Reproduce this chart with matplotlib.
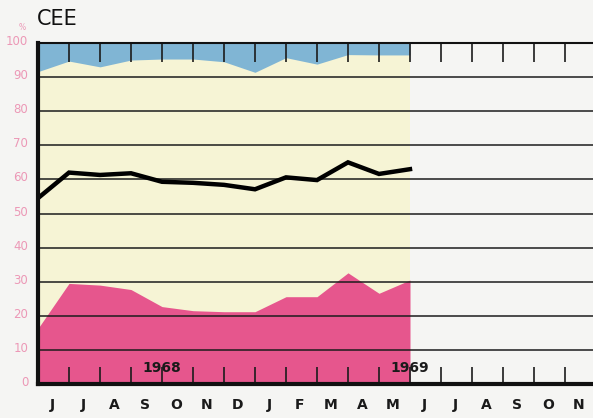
import matplotlib.pyplot as plt
import matplotlib.transforms as mtransforms
import numpy as np

# valeurs (juin 1968 -> juin 1969)
mois_x = np.arange(13)
courbe = [54.5, 62.0, 61.3, 61.8, 59.3, 59.0, 58.4, 57.1, 60.6, 59.8, 65.0, 61.6, 63.0]
zone_rose = [16.3, 29.5, 29.0, 27.7, 22.7, 21.5, 21.2, 21.2, 25.6, 25.6, 32.6, 26.6, 30.5]
zone_bleue = [91.6, 94.7, 93.0, 95.0, 95.3, 95.3, 94.5, 91.4, 95.7, 93.8, 96.6, 96.5, 96.5]

etiquettes_mois = ["J", "J", "A", "S", "O", "N", "D", "J", "F", "M", "A", "M",
                   "J", "J", "A", "S", "O", "N"]
annees = ["1968", "1969"]
annees_x = [4, 12]
graduations_y = [0, 10, 20, 30, 40, 50, 60, 70, 80, 90, 100]

fond = "#f5f5f3"
creme = "#f6f4d5"
rose = "#e6568d"
bleu = "#80b5d4"
rose_clair = "#ec98b6"

fig = plt.figure(figsize=(5.93, 4.18), dpi=100, facecolor=fond)
ax = fig.add_axes([38 / 593, 34 / 418, 1 - 38 / 593, 341 / 418])
ax.set_facecolor(fond)
ax.set_xlim(0, 555 / 31)
ax.set_ylim(0, 100)

# zones colorees
ax.fill_between(mois_x, 0, 100, color=creme, lw=0, zorder=1)
ax.fill_between(mois_x, 0, zone_rose, color=rose, lw=0, zorder=2)
ax.fill_between(mois_x, zone_bleue, 100, color=bleu, lw=0, zorder=2)

# lignes horizontales
for v in graduations_y[1:-1]:
    ax.axhline(v, color="#1c1c1c", lw=1.1, zorder=3)

# petites graduations verticales en haut et en bas
xt = np.arange(1, 18)
ax.vlines(xt, 1 - 19 / 341, 1, color="#1c1c1c", lw=1.2,
          transform=ax.get_xaxis_transform(), zorder=3)
ax.vlines(xt, 0, 17 / 341, color="#1c1c1c", lw=1.2,
          transform=ax.get_xaxis_transform(), zorder=3)

# courbe noire
ax.plot(mois_x, courbe, color="black", lw=3.2, solid_joinstyle="miter", zorder=4)

# annees
for x, a in zip(annees_x, annees):
    ax.text(x, 4.6, a, ha="center", va="center", fontsize=10, fontweight="bold",
            color="#1a1a1a", zorder=5)

# axes
ax.spines["right"].set_visible(False)
ax.spines["left"].set_linewidth(3)
ax.spines["bottom"].set_linewidth(3)
ax.spines["top"].set_linewidth(1.5)
for s in ax.spines.values():
    s.set_color("#111111")
    s.set_zorder(5)

ax.set_xticks(np.arange(18) + 0.45)
ax.set_xticklabels(etiquettes_mois, fontsize=10, fontweight="bold", color="#1a1a1a")
ax.tick_params(axis="x", length=0, pad=10)
ax.set_yticks(graduations_y)
ax.set_yticklabels([str(v) for v in graduations_y], fontsize=8.5, color=rose_clair)
ax.tick_params(axis="y", length=0, pad=7)
decal = mtransforms.ScaledTranslation(0, 3 / 100, fig.dpi_scale_trans)
for lbl in ax.get_yticklabels():
    lbl.set_transform(lbl.get_transform() + decal)

fig.text(22 / 593, 1 - 27 / 418, "%", fontsize=5.5, color=rose_clair, ha="center", va="center")
fig.text(37 / 593, 1 - 19 / 418, "CEE", fontsize=15, color="#111111", ha="left", va="center")

fig.savefig("out.png", dpi=100, facecolor=fond)
